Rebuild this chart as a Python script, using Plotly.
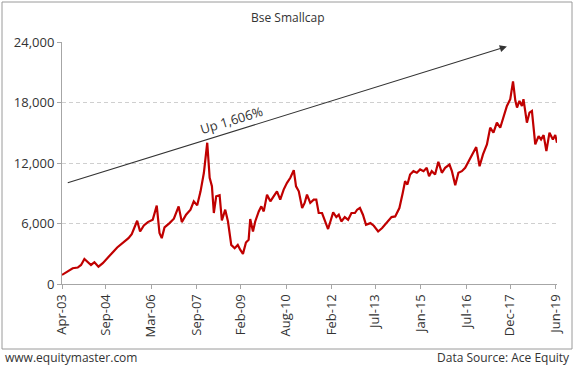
import plotly.graph_objects as go

# ---- data ----
dates = [
    "2003-04-01", "2003-06-08", "2003-08-07", "2003-10-06", "2003-11-15", "2003-12-25",
    "2004-02-12", "2004-03-13", "2004-04-23", "2004-06-10", "2004-08-01", "2004-09-30",
    "2004-11-29", "2005-01-20", "2005-03-07", "2005-04-17", "2005-06-04", "2005-07-13",
    "2005-08-15", "2005-09-16", "2005-10-21", "2005-12-05", "2006-01-22", "2006-03-21",
    "2006-05-08", "2006-06-10", "2006-07-07", "2006-08-09", "2006-10-08", "2006-11-29",
    "2007-01-25", "2007-03-04", "2007-04-24", "2007-06-16", "2007-07-25", "2007-09-04",
    "2007-10-14", "2007-11-23", "2008-01-02", "2008-01-31", "2008-02-27", "2008-03-21",
    "2008-04-18", "2008-05-29", "2008-06-25", "2008-08-04", "2008-09-06", "2008-10-15",
    "2008-11-25", "2009-01-01", "2009-02-01", "2009-03-04", "2009-04-09", "2009-05-11",
    "2009-05-30", "2009-07-02", "2009-07-29", "2009-09-09", "2009-10-10", "2009-11-08",
    "2009-12-17", "2010-01-26", "2010-03-06", "2010-04-15", "2010-05-24", "2010-07-04",
    "2010-08-13", "2010-09-22", "2010-11-02", "2010-11-29", "2011-01-01", "2011-02-10",
    "2011-03-12", "2011-04-09", "2011-05-18", "2011-06-28", "2011-07-29", "2011-08-27",
    "2011-10-06", "2011-11-15", "2011-12-17", "2012-01-14", "2012-02-16", "2012-03-25",
    "2012-04-23", "2012-05-24", "2012-07-04", "2012-08-13", "2012-09-22", "2012-11-02",
    "2012-11-29", "2013-01-01", "2013-02-06", "2013-03-15", "2013-05-06", "2013-06-16",
    "2013-08-07", "2013-09-24", "2013-11-03", "2013-12-13", "2014-01-14", "2014-02-27",
    "2014-04-18", "2014-05-28", "2014-06-25", "2014-07-23", "2014-08-24", "2014-10-03",
    "2014-11-13", "2014-12-22", "2015-02-01", "2015-03-11", "2015-04-08", "2015-05-10",
    "2015-06-19", "2015-07-28", "2015-09-08", "2015-10-17", "2015-12-08", "2016-01-06",
    "2016-02-15", "2016-03-24", "2016-05-04", "2016-06-13", "2016-07-22", "2016-09-02",
    "2016-10-23", "2016-12-02", "2017-01-12", "2017-02-28", "2017-04-08", "2017-05-17",
    "2017-06-27", "2017-08-06", "2017-09-15", "2017-10-25", "2017-12-04", "2018-01-06",
    "2018-02-03", "2018-02-23", "2018-03-24", "2018-04-22", "2018-05-11", "2018-06-21",
    "2018-07-22", "2018-08-20", "2018-09-29", "2018-11-08", "2018-12-07", "2019-01-07",
    "2019-02-09", "2019-03-18", "2019-04-28", "2019-05-26", "2019-06-16",
]
smallcap = [
    900, 1230, 1560, 1630, 1890, 2490,
    2060, 1890, 2160, 1720, 2060, 2560,
    3160, 3620, 3950, 4210, 4550, 4950,
    5550, 6270, 5210, 5810, 6140, 6370,
    7770, 5050, 4550, 5610, 6040, 6470,
    7700, 6140, 6870, 7370, 8200, 7800,
    9190, 11030, 14010, 10530, 9690, 7040,
    8700, 8800, 6300, 7370, 6200, 3880,
    3550, 3880, 3380, 2990, 4110, 4380,
    6440, 5210, 6200, 7200, 7700, 7200,
    8860, 8200, 8700, 9190, 8370, 9360,
    10030, 10530, 11290, 9690, 9190, 7540,
    8040, 8860, 8040, 8370, 8370, 7040,
    7040, 6200, 5450, 6200, 7100, 6640,
    6870, 6200, 6640, 6370, 7040, 7040,
    7370, 7540, 6870, 5880, 6040, 5780,
    5210, 5550, 5980, 6370, 6640, 6700,
    7530, 9030, 10190, 9860, 10860, 11190,
    11030, 11360, 11190, 11520, 10690, 11190,
    10860, 12120, 11030, 11520, 11850, 11190,
    9790, 11030, 11190, 11520, 12120, 12680,
    13580, 11680, 12850, 13840, 15500, 15010,
    16000, 15500, 16660, 17660, 18330, 20090,
    18160, 17500, 18160, 17660, 18330, 16000,
    17000, 17160, 13840, 14670, 14340, 14770,
    13180, 15010, 14340, 14770, 14010,
]
tick_dates = ["2003-04-01", "2004-09-01", "2006-03-01", "2007-09-01", "2009-02-01",
              "2010-08-01", "2012-02-01", "2013-07-01", "2015-01-01", "2016-07-01",
              "2017-12-01", "2019-06-01"]
tick_labels = ["Apr-03", "Sep-04", "Mar-06", "Sep-07", "Feb-09", "Aug-10",
               "Feb-12", "Jul-13", "Jan-15", "Jul-16", "Dec-17", "Jun-19"]
y_ticks = [0, 6000, 12000, 18000, 24000]

title_text = "Bse Smallcap"
arrow_label = "Up 1,606%"
arrow_tail = ("2003-05-22", 10000)
arrow_head = ("2017-10-25", 23550)
label_pos = ("2008-10-20", 16300)

# ---- layout helpers (pixel -> paper) ----
W, H = 575, 366
ML, MR, MT, MB = 62, 18, 42, 82
PW, PH = W - ML - MR, H - MT - MB


def px(xp):
    return (xp - ML) / PW


def py(yp):
    return (H - MB - yp) / PH


FONT = "Open Sans, Noto Sans, DejaVu Sans, sans-serif"
TXT = "#333333"
AX = "#a6a6a6"

fig = go.Figure()
fig.add_trace(go.Scatter(
    x=dates, y=smallcap, mode="lines",
    line=dict(color="#c00000", width=2.2),
    hoverinfo="skip", showlegend=False,
))

fig.update_layout(
    width=W, height=H,
    margin=dict(l=ML, r=MR, t=MT, b=MB, pad=0),
    paper_bgcolor="white", plot_bgcolor="white",
    font=dict(family=FONT, size=13, color=TXT),
    showlegend=False,
)
fig.update_xaxes(
    type="date",
    range=[dates[0], dates[-1]],
    tickvals=tick_dates, ticktext=tick_labels,
    tickangle=-90,
    showgrid=False, zeroline=False,
    showline=True, linecolor=AX, linewidth=1,
    ticks="outside", ticklen=4, tickcolor=AX,
    tickfont=dict(size=13, color=TXT),
)
fig.update_yaxes(
    range=[0, 24000],
    tickvals=y_ticks, tickformat=",",
    showgrid=True, gridcolor="#cfcfcf", griddash="4px,3px", gridwidth=1,
    zeroline=False,
    showline=True, linecolor=AX, linewidth=1,
    ticks="outside", ticklen=4, tickcolor=AX,
    tickfont=dict(size=13, color=TXT),
)

# arrow
fig.add_annotation(
    x=arrow_head[0], y=arrow_head[1], ax=arrow_tail[0], ay=arrow_tail[1],
    xref="x", yref="y", axref="x", ayref="y",
    text="", showarrow=True, arrowhead=2, arrowsize=1.3, arrowwidth=1.1,
    arrowcolor="#333333", standoff=0, startstandoff=0,
)
fig.add_annotation(
    x=label_pos[0], y=label_pos[1], xref="x", yref="y",
    text=arrow_label, showarrow=False, textangle=-17,
    font=dict(size=13, color=TXT),
)

# title and footer
fig.add_annotation(x=px(288), y=py(17), xref="paper", yref="paper",
                   text=title_text, showarrow=False, xanchor="center", yanchor="middle",
                   font=dict(size=12, color=TXT))
fig.add_annotation(x=px(3), y=py(357), xref="paper", yref="paper",
                   text="www.equitymaster.com", showarrow=False,
                   xanchor="left", yanchor="middle", font=dict(size=12, color=TXT))
fig.add_annotation(x=px(572), y=py(357), xref="paper", yref="paper",
                   text="Data Source: Ace Equity", showarrow=False,
                   xanchor="right", yanchor="middle", font=dict(size=12, color=TXT))

# outer frame
fig.add_shape(type="rect", xref="paper", yref="paper",
              x0=px(2), x1=px(572), y0=py(349), y1=py(2),
              line=dict(color="#9a9a9a", width=1), fillcolor="rgba(0,0,0,0)", layer="below")

fig.write_html(
    "out.html",
    config={"displayModeBar": False, "staticPlot": True},
    post_script="document.body.style.margin='0';document.body.style.padding='0';"
                "document.body.style.overflow='hidden';",
)
